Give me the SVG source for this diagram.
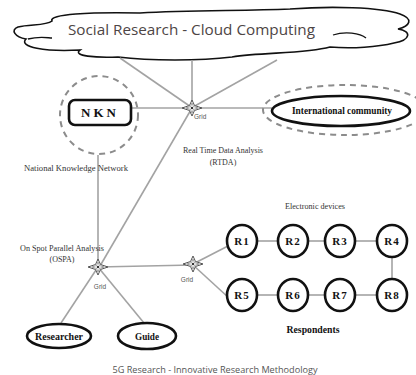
<svg xmlns="http://www.w3.org/2000/svg" xmlns:xlink="http://www.w3.org/1999/xlink" width="416" height="375" viewBox="0 0 416 375">
<style>
.conn{stroke:#a3a3a3;stroke-width:1.6;fill:none}
.dash{stroke:#8c8c8c;stroke-width:2;stroke-dasharray:6 5;fill:none}
.thick{stroke:#111;stroke-width:2.6;fill:#fff}
.ser{font-family:"Liberation Serif","Times New Roman",serif;fill:#222}
.b{font-weight:bold;fill:#111}
.sm{font-size:8px;fill:#333}
.grid{font-family:"Liberation Sans",Arial,sans-serif;font-size:6.5px;fill:#555}
.sans{font-family:"Open Sans","Liberation Sans",sans-serif}
</style>
<defs>
<g id="star">
<polygon points="-10,0 -2.5,-2.5 0,-8 2.5,-2.5 10,0 2.5,2.5 0,8 -2.5,2.5" fill="#fff" stroke="#555" stroke-width="1"/>
<polygon points="-6,0 -1.5,-1.5 0,-5 1.5,-1.5 6,0 1.5,1.5 0,5 -1.5,1.5" fill="none" stroke="#777" stroke-width="0.7"/>
<circle r="1.3" fill="#333"/>
</g>
</defs>

<g id="cloud">
<path d="M52,21 C48,14 90,12 140,13 C190,10 240,11 290,9 C330,6 380,7 400,14 C414,19 410,26 398,29 C412,31 411,40 394,43 C378,47 352,49 330,47 C305,54 262,52 232,57 C200,61 150,61 118,57 C96,58 72,56 80,50 C45,52 18,47 26,39 C15,37 10,30 18,27 C30,24 46,26 52,21 Z" fill="#fff" stroke="#111" stroke-width="1.6"/>
<path d="M28,39 C40,36 48,38 52,38" fill="none" stroke="#111" stroke-width="1.3"/>
<path d="M333,35 C345,31 360,33 366,38" fill="none" stroke="#111" stroke-width="1.3"/>
<text class="sans" x="68" y="35" font-size="14" fill="#4d4545" textLength="247" lengthAdjust="spacingAndGlyphs">Social Research - Cloud Computing</text>
</g>

<g id="connectors">
<line class="conn" x1="120" y1="58" x2="191" y2="107"/>
<line class="conn" x1="192" y1="60" x2="192" y2="106"/>
<line class="conn" x1="277" y1="60" x2="193" y2="107"/>
<line class="conn" x1="132" y1="108" x2="192" y2="108"/>
<line class="conn" x1="192" y1="108" x2="272" y2="108"/>
<line class="conn" x1="192" y1="108" x2="100" y2="266"/>
<line class="conn" x1="98" y1="155" x2="98" y2="267"/>
<line class="conn" x1="98" y1="267" x2="193" y2="265"/>
<line class="conn" x1="98" y1="267" x2="61" y2="323"/>
<line class="conn" x1="98" y1="267" x2="144" y2="323"/>
<line class="conn" x1="193" y1="264" x2="228" y2="246"/>
<line class="conn" x1="193" y1="265" x2="229" y2="298"/>
<line class="conn" x1="257" y1="241" x2="278" y2="241"/>
<line class="conn" x1="308" y1="241" x2="325" y2="241"/>
<line class="conn" x1="355" y1="241" x2="377" y2="241"/>
<line class="conn" x1="392" y1="257" x2="392" y2="278"/>
<line class="conn" x1="257" y1="295" x2="278" y2="295"/>
<line class="conn" x1="308" y1="295" x2="325" y2="295"/>
<line class="conn" x1="355" y1="295" x2="377" y2="295"/>
</g>

<g id="grid1">
<use xlink:href="#star" href="#star" x="192" y="108"/>
<text class="grid" x="194" y="119">Grid</text>
</g>
<g id="grid2">
<use xlink:href="#star" href="#star" x="98" y="267"/>
<text class="grid" x="100" y="289" text-anchor="middle">Grid</text>
</g>
<g id="grid3">
<use xlink:href="#star" href="#star" x="193" y="264"/>
<text class="grid" x="187" y="282" text-anchor="middle">Grid</text>
</g>

<g id="nkn">
<circle class="dash" cx="99" cy="115" r="39"/>
<rect x="69" y="100" width="62" height="25" rx="6" class="thick"/>
<text class="ser b" x="100" y="117" font-size="13" text-anchor="middle" letter-spacing="3">NKN</text>
<text class="ser sm" x="24" y="171" textLength="104" lengthAdjust="spacingAndGlyphs">National  Knowledge  Network</text>
</g>

<g id="international">
<ellipse class="dash" cx="345" cy="110" rx="82" ry="25"/>
<ellipse class="thick" cx="341" cy="111" rx="69" ry="15"/>
<text class="ser b" x="292" y="114" font-size="10" textLength="100" lengthAdjust="spacingAndGlyphs">International community</text>
</g>

<g id="rtda">
<text class="ser sm" x="223" y="153" text-anchor="middle" textLength="80" lengthAdjust="spacingAndGlyphs">Real Time Data Analysis</text>
<text class="ser sm" x="223" y="165" text-anchor="middle">(RTDA)</text>
</g>

<g id="ospa">
<text class="ser sm" x="62" y="251" text-anchor="middle" textLength="84" lengthAdjust="spacingAndGlyphs">On Spot Parallel Analysis</text>
<text class="ser sm" x="62" y="262" text-anchor="middle">(OSPA)</text>
</g>

<g id="researcher">
<ellipse class="thick" cx="59" cy="336" rx="32" ry="12"/>
<text class="ser b" x="59" y="340" font-size="10.5" text-anchor="middle" textLength="48" lengthAdjust="spacingAndGlyphs">Researcher</text>
</g>
<g id="guide">
<ellipse class="thick" cx="147" cy="336" rx="29" ry="13"/>
<text class="ser b" x="147" y="340" font-size="10.5" text-anchor="middle" textLength="24" lengthAdjust="spacingAndGlyphs">Guide</text>
</g>

<g id="r1"><ellipse class="thick" cx="242" cy="241" rx="15" ry="16"/><text class="ser b" x="242" y="245" font-size="11" text-anchor="middle" letter-spacing="1">R1</text></g>
<g id="r2"><ellipse class="thick" cx="293" cy="241" rx="15" ry="16"/><text class="ser b" x="293" y="245" font-size="11" text-anchor="middle" letter-spacing="1">R2</text></g>
<g id="r3"><ellipse class="thick" cx="340" cy="241" rx="15" ry="16"/><text class="ser b" x="340" y="245" font-size="11" text-anchor="middle" letter-spacing="1">R3</text></g>
<g id="r4"><ellipse class="thick" cx="392" cy="241" rx="15" ry="16"/><text class="ser b" x="392" y="245" font-size="11" text-anchor="middle" letter-spacing="1">R4</text></g>
<g id="r5"><ellipse class="thick" cx="242" cy="295" rx="15" ry="16"/><text class="ser b" x="242" y="299" font-size="11" text-anchor="middle" letter-spacing="1">R5</text></g>
<g id="r6"><ellipse class="thick" cx="293" cy="295" rx="15" ry="16"/><text class="ser b" x="293" y="299" font-size="11" text-anchor="middle" letter-spacing="1">R6</text></g>
<g id="r7"><ellipse class="thick" cx="340" cy="295" rx="15" ry="16"/><text class="ser b" x="340" y="299" font-size="11" text-anchor="middle" letter-spacing="1">R7</text></g>
<g id="r8"><ellipse class="thick" cx="392" cy="295" rx="15" ry="16"/><text class="ser b" x="392" y="299" font-size="11" text-anchor="middle" letter-spacing="1">R8</text></g>

<g id="labels">
<text class="ser sm" x="315" y="209" text-anchor="middle" textLength="60" lengthAdjust="spacingAndGlyphs">Electronic devices</text>
<text class="ser b" x="313" y="333" font-size="11" text-anchor="middle" textLength="53" lengthAdjust="spacingAndGlyphs">Respondents</text>
<text class="sans" x="215" y="373" font-size="9.5" fill="#555" text-anchor="middle" textLength="205" lengthAdjust="spacingAndGlyphs">5G Research - Innovative Research Methodology</text>
</g>
</svg>
